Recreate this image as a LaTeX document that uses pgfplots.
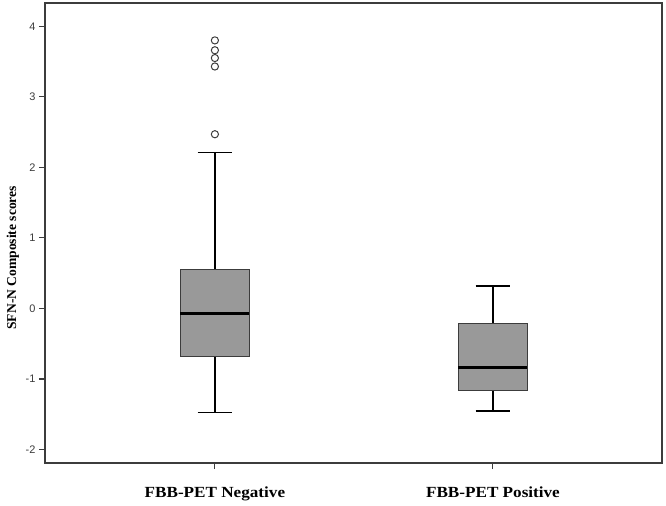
\documentclass[border=0pt]{standalone}
\usepackage{fontspec}
\setmainfont{Liberation Serif}
\setsansfont{Liberation Sans}
\usepackage{pgfplots}
\pgfplotsset{compat=1.18}
\usepgfplotslibrary{statistics}
\definecolor{boxgray}{RGB}{153,153,153}
\definecolor{framegray}{RGB}{60,60,60}
\begin{document}
\begin{tikzpicture}
\useasboundingbox (-45bp,-43bp) rectangle (621bp,463bp);
\begin{axis}[name=ax, at={(0,0)}, anchor=south west,
  scale only axis, width=617bp, height=460bp,
  xmin=0.389, xmax=2.608, ymin=-2.19, ymax=4.33,
  axis line style={framegray, line width=1.2bp},
  xtick={1,2}, xticklabels={FBB-PET Negative, FBB-PET Positive},
  ytick={-2,-1,0,1,2,3,4}, yticklabels={-2,-1,0,1,2,3,4},
  tick align=outside, tick pos=left, major tick length=6bp,
  tick style={framegray, line width=1.1bp},
  xticklabel style={font=\fontsize{15.5}{17}\selectfont\bfseries, xscale=1.11, yshift=-14bp},
  yticklabel style={font=\sffamily\fontsize{11}{12}\selectfont, text=framegray},
  ylabel={SFN-N Composite scores},
  ylabel style={font=\fontsize{13.6}{15}\selectfont\bfseries, at={(ticklabel cs:0.446)}},
  boxplot/draw direction=y,
  boxplot/box extend=0.248, boxplot/whisker extend=0.125,
  boxplot/every box/.style={draw=framegray, fill=boxgray, line width=1.2bp},
  boxplot/every median/.style={black, line width=2.6bp},
  boxplot/every whisker/.style={black, line width=1.8bp},
]
\addplot[mark=o, mark size=3.6bp, mark options={draw=framegray, line width=1bp, fill=white},
  boxplot prepared={draw position=1, median=-0.07, upper quartile=0.557,
    lower quartile=-0.68, upper whisker=2.21, lower whisker=-1.475}]
  table[row sep=\\, y index=0] {data\\ 3.80\\ 3.66\\ 3.55\\ 3.43\\ 2.47\\};
\addplot[mark=o, boxplot prepared={draw position=2, median=-0.84, upper quartile=-0.21,
    lower quartile=-1.16, upper whisker=0.316, lower whisker=-1.45}]
  coordinates {};
\end{axis}
\end{tikzpicture}
\end{document}
